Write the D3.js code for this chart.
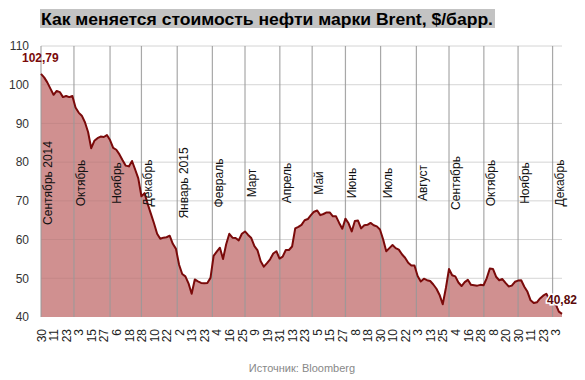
<!DOCTYPE html>
<html><head><meta charset="utf-8">
<script src="https://cdn.jsdelivr.net/npm/d3@7/dist/d3.min.js"></script>
<style>
html,body{margin:0;padding:0;background:#fff;}
svg{display:block;font-family:"Liberation Sans",Arial,sans-serif;}
</style></head>
<body><svg id="chart" width="585" height="380"></svg>
<script>
const title = "Как меняется стоимость нефти марки Brent, $/барр.";
const source = "Источник: Bloomberg";

// Brent price, sampled every second trading day (index 0 = 30 Aug 2014, last = early Dec 2015)
const prices = [
102.79,101.9,100.6,99.0,97.4,98.4,98.1,96.8,97.1,96.8,97.1,94.1,92.8,92.0,90.3,87.8,83.6,85.5,86.2,86.6,
86.5,87.0,85.7,83.7,83.2,82.0,80.5,79.1,78.9,80.3,78.1,75.8,71.2,72.0,69.2,66.7,64.2,61.5,60.2,60.5,
60.6,61.0,58.9,57.6,53.5,51.1,50.5,48.7,46.0,49.7,49.2,48.8,48.7,48.8,50.1,55.8,56.9,57.9,55.0,58.8,
61.5,60.5,60.4,59.8,61.5,62.1,61.2,60.4,58.3,57.2,54.4,53.0,53.9,54.9,56.4,57.0,55.1,55.6,57.3,57.3,
58.2,62.9,63.3,63.8,65.0,65.3,66.3,67.2,67.5,66.3,66.6,67.0,67.0,66.0,66.0,64.3,62.8,65.4,64.2,62.1,
64.8,64.9,62.9,63.7,63.8,64.3,63.7,63.4,62.6,60.1,57.0,57.8,58.6,57.8,57.4,56.2,55.3,54.0,53.3,53.3,
50.6,49.2,49.9,49.5,49.3,48.4,47.3,45.7,43.3,47.5,52.4,50.8,50.5,48.9,48.0,49.0,49.6,48.3,48.2,48.1,
48.3,48.2,50.0,52.5,52.4,50.4,49.5,49.8,48.8,47.9,48.1,49.1,49.4,49.5,47.8,46.5,44.3,43.6,43.8,44.8,
45.5,46.0,44.6,43.5,43.3,41.4,40.82];

// date tick labels, one every 4 samples
const tickLabels = ["30","11","23","3","15","27","6","18","28","10","22","2","13","23","4","16","25","9","19","31",
"13","23","5","15","27","8","18","30","10","22","3","13","25","4","16","28","8","20","30","11","23","3"];

// month starts (in sample-index units) and their names
const monthNames = ["Сентябрь 2014","Октябрь","Ноябрь","Декабрь","Январь 2015","Февраль","Март","Апрель","Май","Июнь","Июль","Август","Сентябрь","Октябрь","Ноябрь","Декабрь"];
const monthStarts = [0,10.5,22,32,43.4,54.6,65,76.1,86.4,97,108.2,119.6,130,141.1,152,163];

const yTicks = [40,50,60,70,80,90,100,110];
const firstLabel = "102,79";
const lastLabel = "40,82";

const svg = d3.select("#chart");
const L = 41, R = 562, T = 46, B = 317;
const x = d3.scaleLinear().domain([0, prices.length - 1]).range([L, R]);
const y = d3.scaleLinear().domain([40, 110]).range([B, T]);

// title
svg.append("rect").attr("x", 40).attr("y", 9).attr("width", 455).attr("height", 19).attr("fill", "#c3c3c3");
svg.append("text").attr("x", 41).attr("y", 25).attr("font-size", 17).attr("font-weight", "bold")
  .attr("fill", "#000").attr("textLength", 452).attr("lengthAdjust", "spacingAndGlyphs").text(title);

// horizontal grid
svg.append("g").selectAll("line").data(yTicks.filter(d => d > 40)).join("line")
  .attr("x1", L).attr("x2", R).attr("y1", d => y(d)).attr("y2", d => y(d))
  .attr("stroke", "#e2e2e2").attr("stroke-width", 1);

// area
const area = d3.area().x((d, i) => x(i)).y0(y(40)).y1(d => y(d));
svg.append("path").datum(prices).attr("d", area).attr("fill", "#d09090");

// faint grid over fill
svg.append("g").selectAll("line").data(yTicks.filter(d => d > 40)).join("line")
  .attr("x1", L).attr("x2", R).attr("y1", d => y(d)).attr("y2", d => y(d))
  .attr("stroke", "rgba(0,0,0,0.06)").attr("stroke-width", 1);

// month lines
svg.append("g").selectAll("line").data(monthStarts).join("line")
  .attr("x1", d => x(d)).attr("x2", d => x(d)).attr("y1", T).attr("y2", B)
  .attr("stroke", "#999").attr("stroke-opacity", 0.85).attr("stroke-width", 1.2);

// price line
const line = d3.line().x((d, i) => x(i)).y(d => y(d));
svg.append("path").datum(prices).attr("d", line).attr("fill", "none")
  .attr("stroke", "#7a0a0a").attr("stroke-width", 2).attr("stroke-linejoin", "round");

// month labels
svg.append("g").selectAll("text").data(monthStarts).join("text")
  .attr("transform", d => `translate(${x(d) + 11},183) rotate(-90)`)
  .attr("text-anchor", "middle").attr("font-size", 12).attr("fill", "#111")
  .text((d, i) => monthNames[i]);

// y axis
const yAxis = d3.axisLeft(y).tickValues(yTicks).tickSize(0).tickPadding(0);
const gy = svg.append("g").attr("transform", `translate(29,0)`).call(yAxis);
gy.select(".domain").remove();
gy.selectAll("text").attr("font-size", 12).attr("fill", "#333").attr("font-family", "Liberation Sans, Arial, sans-serif");

// x axis (date labels)
const tickIdx = tickLabels.map((d, i) => i * 4);
const xAxis = d3.axisBottom(x).tickValues(tickIdx).tickFormat((d, i) => tickLabels[i]).tickSize(0);
const gx = svg.append("g").attr("transform", `translate(0,329)`).call(xAxis);
gx.select(".domain").remove();
gx.selectAll("text").attr("font-size", 12).attr("fill", "#222").attr("font-family", "Liberation Sans, Arial, sans-serif")
  .attr("text-anchor", "end").attr("transform", "rotate(-90)").attr("x", 0).attr("y", 0).attr("dy", "0.35em");

// annotations
svg.append("text").attr("x", 22).attr("y", 62).attr("font-size", 12).attr("font-weight", "bold")
  .attr("fill", "#7a0a0a").text(firstLabel);
svg.append("text").attr("x", 547).attr("y", 304).attr("font-size", 12).attr("font-weight", "bold")
  .attr("fill", "#5a0a0a").attr("stroke", "#fff").attr("stroke-width", 3).attr("paint-order", "stroke")
  .text(lastLabel);

// source
svg.append("text").attr("x", 302).attr("y", 372).attr("text-anchor", "middle").attr("font-size", 11)
  .attr("fill", "#888").text(source);
</script>
</body></html>
